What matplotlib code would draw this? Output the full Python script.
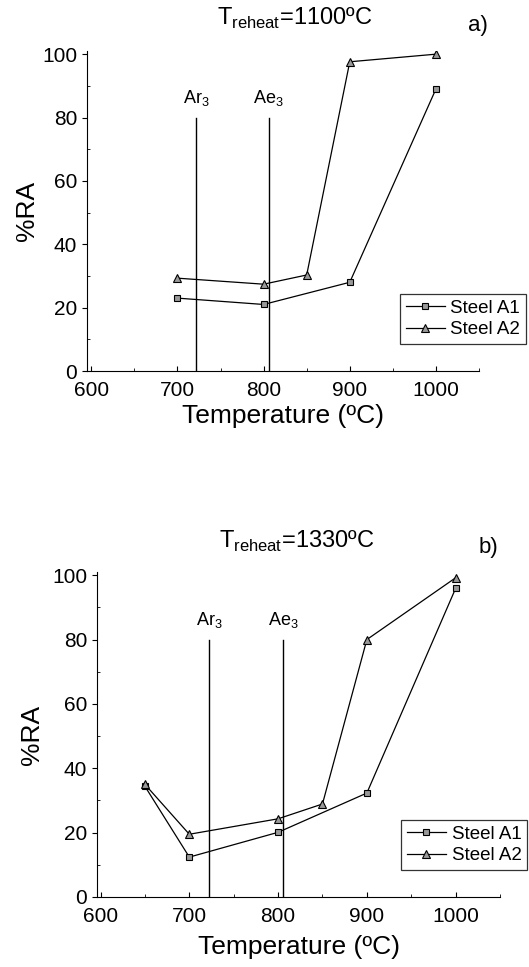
import matplotlib
matplotlib.use("Agg")
import matplotlib.pyplot as plt
from matplotlib.ticker import MultipleLocator

plt.rcParams["font.family"] = ["Liberation Sans", "DejaVu Sans"]

# panel a) T_reheat = 1100 C
a_temp_a1 = [700, 800, 900, 1000]
a_ra_a1 = [23, 21, 28, 89]
a_temp_a2 = [700, 800, 850, 900, 1000]
a_ra_a2 = [29.3, 27.4, 30.3, 97.6, 100]

# panel b) T_reheat = 1330 C
b_temp_a1 = [650, 700, 800, 900, 1000]
b_ra_a1 = [34.4, 12.4, 20.1, 32.3, 95.9]
b_temp_a2 = [650, 700, 800, 850, 900, 1000]
b_ra_a2 = [35, 19.5, 24.3, 28.9, 80, 99.2]

# transformation temperatures
ar3 = 722
ae3 = 806

W, H = 529, 967

panels = [
    dict(rect=[87 / W, 1 - 371 / H, 392 / W, 320 / H], xlim=(595, 1050),
         title="T$_{\\mathregular{reheat}}$=1100ºC", tag="a)",
         title_xy=(295, 25), tag_xy=(478, 25), xpad=3, ypad=2,
         a1=(a_temp_a1, a_ra_a1), a2=(a_temp_a2, a_ra_a2),
         leg=(526 / W, 1 - 344 / H)),
    dict(rect=[97 / W, 1 - 897 / H, 403 / W, 325 / H], xlim=(596, 1050),
         title="T$_{\\mathregular{reheat}}$=1330ºC", tag="b)",
         title_xy=(297, 548), tag_xy=(488, 548), xpad=7, ypad=6,
         a1=(b_temp_a1, b_ra_a1), a2=(b_temp_a2, b_ra_a2),
         leg=(527 / W, 1 - 870 / H)),
]

fig = plt.figure(figsize=(W / 100, H / 100), dpi=100)

for p in panels:
    ax = fig.add_axes(p["rect"])
    ax.plot(*p["a1"], color="black", lw=0.9, marker="s", ms=5,
            mfc="#999999", mec="black", mew=0.8, label="Steel A1")
    ax.plot(*p["a2"], color="black", lw=0.9, marker="^", ms=6,
            mfc="#999999", mec="black", mew=0.8, label="Steel A2")

    for t, name in [(ar3, "Ar$_{\\mathregular{3}}$"), (ae3, "Ae$_{\\mathregular{3}}$")]:
        ax.plot([t, t], [0, 80], color="black", lw=1.0)
        ax.text(t, 83, name, ha="center", va="bottom", fontsize=13)

    ax.set_xlim(*p["xlim"])
    ax.set_ylim(0, 101)
    ax.spines["top"].set_visible(False)
    ax.spines["right"].set_visible(False)
    ax.xaxis.set_major_locator(MultipleLocator(100))
    ax.xaxis.set_minor_locator(MultipleLocator(50))
    ax.yaxis.set_major_locator(MultipleLocator(20))
    ax.yaxis.set_minor_locator(MultipleLocator(10))
    ax.tick_params(axis="x", which="both", direction="in", labelsize=15,
                   pad=7)
    ax.tick_params(axis="y", which="major", direction="out", labelsize=15)
    ax.tick_params(axis="y", which="minor", direction="in")
    ax.set_xlabel("Temperature (ºC)", fontsize=19, labelpad=p["xpad"])
    ax.set_ylabel("%RA", fontsize=19, labelpad=p["ypad"])

    tx, ty = p["title_xy"]
    fig.text(tx / W, 1 - ty / H, p["title"], fontsize=17,
             ha="center", va="baseline")
    gx, gy = p["tag_xy"]
    fig.text(gx / W, 1 - gy / H, p["tag"], fontsize=16,
             ha="center", va="center")

    leg = ax.legend(loc="lower right", bbox_to_anchor=p["leg"],
                    bbox_transform=fig.transFigure, fontsize=13.5,
                    frameon=True, fancybox=False, edgecolor="black",
                    handlelength=2.1, borderpad=0.3, labelspacing=0.25,
                    handletextpad=0.3, borderaxespad=0)
    leg.get_frame().set_linewidth(0.9)

fig.savefig("out.png", dpi=100)
